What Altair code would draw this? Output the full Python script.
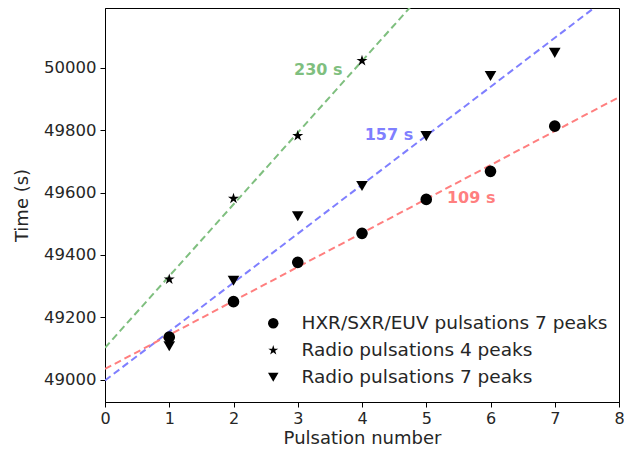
import altair as alt
import pandas as pd

# Data
hxr_x = [1, 2, 3, 4, 5, 6, 7]
hxr_t = [49136, 49250, 49376, 49469, 49578, 49668, 49813]

r4_x = [1, 2, 3, 4]
r4_t = [49322, 49581, 49782, 50023]

r7_x = [1, 2, 3, 4, 5, 6, 7]
r7_t = [49107, 49317, 49524, 49621, 49781, 49974, 50048]

series_names = ["HXR/SXR/EUV pulsations 7 peaks", "Radio pulsations 4 peaks", "Radio pulsations 7 peaks"]
STAR = ("M0,-1L0.2245,-0.309L0.9511,-0.309L0.3633,0.118L0.5878,0.809L0,0.382"
        "L-0.5878,0.809L-0.3633,0.118L-0.9511,-0.309L-0.2245,-0.309Z")
series_shapes = ["circle", STAR, "triangle-down"]

fit_names = ["230 s", "157 s", "109 s"]
fit_slopes = [230, 157, 109]
fit_intercepts = [49102, 48997, 49034]
fit_colors = ["#7fbf7f", "#7f7fff", "#ff7f7f"]
label_x = [3.32, 4.42, 5.70]
label_y = [49993, 49783, 49584]

x_ticks = [0, 1, 2, 3, 4, 5, 6, 7, 8]
y_ticks = [49000, 49200, 49400, 49600, 49800, 50000]
x_dom = [0, 8]
y_dom = [48928, 50192]

FONT = "DejaVu Sans"
TXT = "#262626"

pts = pd.DataFrame(
    [{"x": x, "t": t, "s": series_names[0]} for x, t in zip(hxr_x, hxr_t)]
    + [{"x": x, "t": t, "s": series_names[1]} for x, t in zip(r4_x, r4_t)]
    + [{"x": x, "t": t, "s": series_names[2]} for x, t in zip(r7_x, r7_t)]
)

lines = pd.DataFrame(
    [{"x": xv, "t": b + m * xv, "fit": n}
     for n, m, b in zip(fit_names, fit_slopes, fit_intercepts) for xv in x_dom]
)

labels = pd.DataFrame({"x": label_x, "t": label_y, "fit": fit_names})

xs = alt.Scale(domain=x_dom, nice=False, zero=False)
ys = alt.Scale(domain=y_dom, nice=False, zero=False)
cs = alt.Scale(domain=fit_names, range=fit_colors)

xaxis = alt.Axis(values=x_ticks, title="Pulsation number", grid=False, format="d",
                 labelPadding=3, titlePadding=3, labelFontSize=16, labelFlush=False)
yaxis = alt.Axis(values=y_ticks, title="Time (s)", grid=False, format="d",
                 labelPadding=4, titlePadding=12, labelFlush=False)

line_layer = alt.Chart(lines).mark_line(strokeDash=[7, 4], strokeWidth=2, clip=True).encode(
    x=alt.X("x:Q", scale=xs, axis=xaxis),
    y=alt.Y("t:Q", scale=ys, axis=yaxis),
    color=alt.Color("fit:N", scale=cs, legend=None),
    detail="fit:N",
)

point_layer = alt.Chart(pts).mark_point(filled=True, opacity=1, size=135, color="black").encode(
    x=alt.X("x:Q", scale=xs),
    y=alt.Y("t:Q", scale=ys),
    shape=alt.Shape(
        "s:N",
        scale=alt.Scale(domain=series_names, range=series_shapes),
        legend=alt.Legend(
            title=None,
            orient="none",
            legendX=159,
            legendY=306,
            labelFontSize=18.5,
            labelFont=FONT,
            labelColor=TXT,
            labelLimit=0,
            symbolSize=110,
            symbolFillColor="black",
            symbolStrokeColor="black",
            labelOffset=19,
            rowPadding=8,
            padding=0,
        ),
    ),
)

text_layer = alt.Chart(labels).mark_text(
    fontSize=16, fontWeight="bold", font=FONT, align="center", baseline="middle"
).encode(
    x=alt.X("x:Q", scale=xs),
    y=alt.Y("t:Q", scale=ys),
    text="fit:N",
    color=alt.Color("fit:N", scale=cs, legend=None),
)

chart = (
    alt.layer(line_layer, point_layer, text_layer)
    .properties(
        width=514,
        height=394,
        autosize=alt.AutoSizeParams(type="none"),
        padding={"left": 97, "top": 0, "right": 5, "bottom": 48},
    )
    .configure_view(stroke="black", strokeWidth=1)
    .configure_axis(
        labelFont=FONT,
        titleFont=FONT,
        labelFontSize=16.5,
        titleFontSize=18,
        titleFontWeight="normal",
        labelColor=TXT,
        titleColor=TXT,
        domainColor="black",
        tickColor="black",
        tickSize=5,
    )
)

chart.save("out.html", embed_options={"renderer": "svg", "actions": False})
